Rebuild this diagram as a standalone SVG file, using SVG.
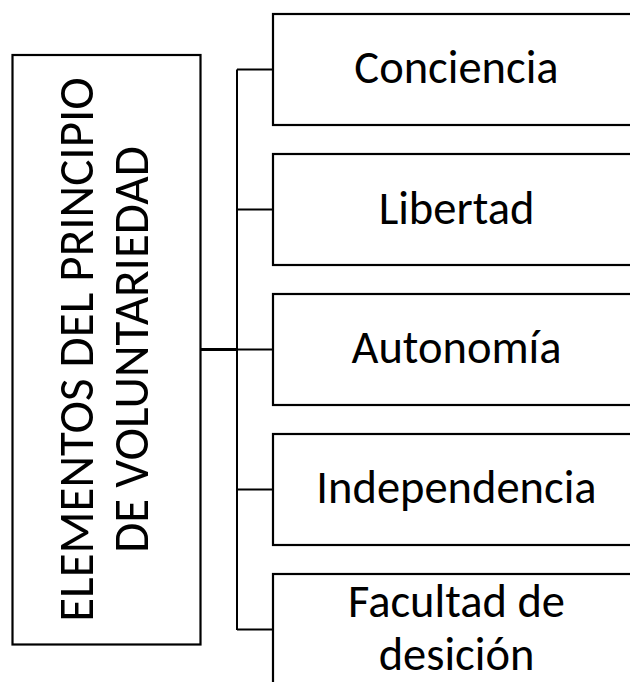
<svg xmlns="http://www.w3.org/2000/svg" width="630" height="682" viewBox="0 0 630 682">
<style>
.box{fill:#fff;stroke:#000;stroke-width:2.2}
.ln{fill:none;stroke:#000;stroke-width:2}
.main{fill:none;stroke:#000;stroke-width:3}
.t{font-family:Carlito,Lato,"Liberation Sans",sans-serif;fill:#000;text-anchor:middle}
.c{font-size:46.5px}
.m{font-size:49px}
</style>
<rect width="630" height="682" fill="#fff"/>
<g id="connectors">
<line class="main" x1="200" y1="349.5" x2="237" y2="349.5"/>
<line class="ln" x1="237" y1="69.5" x2="237" y2="630"/>
<line class="ln" x1="237" y1="69.5" x2="273" y2="69.5"/>
<line class="ln" x1="237" y1="209.5" x2="273" y2="209.5"/>
<line class="ln" x1="237" y1="349.5" x2="273" y2="349.5"/>
<line class="ln" x1="237" y1="489.5" x2="273" y2="489.5"/>
<line class="ln" x1="237" y1="629.5" x2="273" y2="629.5"/>
</g>
<g id="main">
<rect class="box" x="12.5" y="55" width="188" height="589.5"/>
<g transform="translate(0,349.5) rotate(-90)">
<text class="t m" x="0" y="93">ELEMENTOS DEL PRINCIPIO</text>
<text class="t m" x="0" y="148">DE VOLUNTARIEDAD</text>
</g>
</g>
<g id="conciencia">
<rect class="box" x="273" y="14" width="370" height="111"/>
<text class="t c" x="456.5" y="83">Conciencia</text>
</g>
<g id="libertad">
<rect class="box" x="273" y="154" width="370" height="111"/>
<text class="t c" x="456.5" y="224">Libertad</text>
</g>
<g id="autonomia">
<rect class="box" x="273" y="294" width="370" height="111"/>
<text class="t c" x="456.5" y="363">Autonomía</text>
</g>
<g id="independencia">
<rect class="box" x="273" y="434" width="370" height="111"/>
<text class="t c" x="456.5" y="503">Independencia</text>
</g>
<g id="facultad">
<rect class="box" x="273" y="574" width="370" height="111"/>
<text class="t c" x="456.5" y="617">Facultad de</text>
<text class="t c" x="456.5" y="670">desición</text>
</g>
</svg>
